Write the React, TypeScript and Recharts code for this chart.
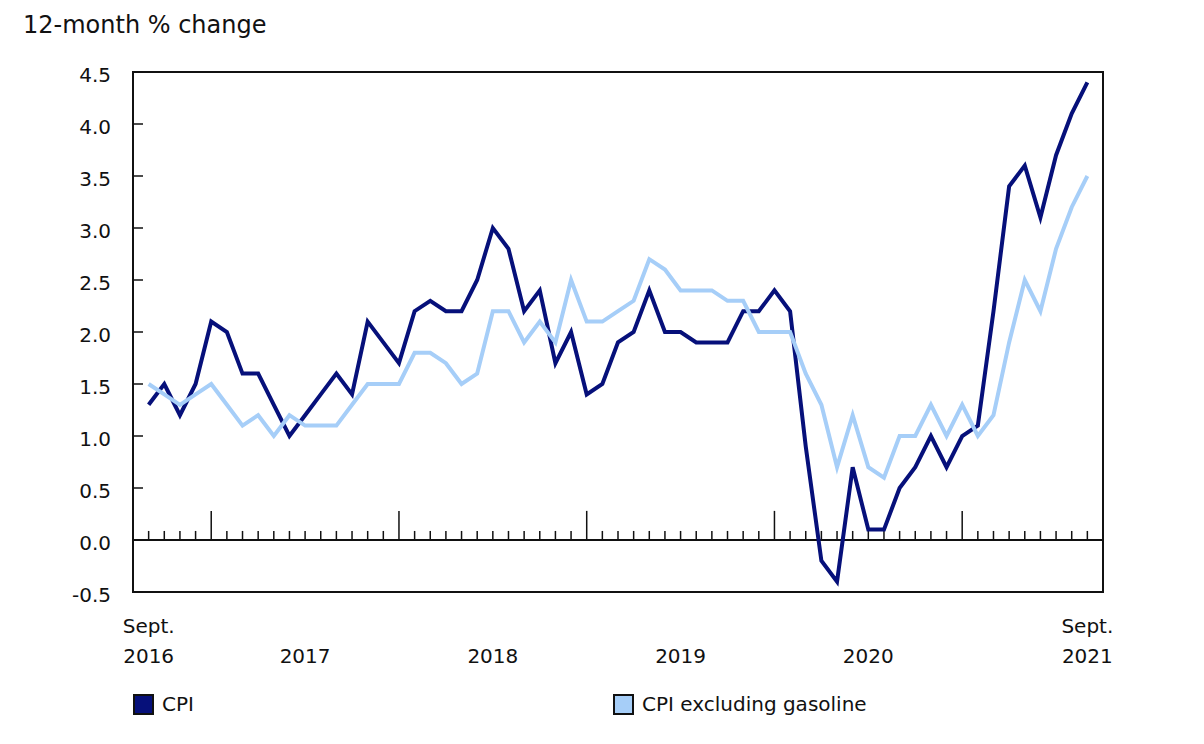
import {
  LineChart,
  Line,
  XAxis,
  YAxis,
  ReferenceLine,
  ReferenceArea,
} from "recharts";

// Sept. 2016 .. Sept. 2021, monthly
const cpi = [
  1.3, 1.5, 1.2, 1.5,
  2.1, 2.0, 1.6, 1.6, 1.3, 1.0, 1.2, 1.4, 1.6, 1.4, 2.1, 1.9,
  1.7, 2.2, 2.3, 2.2, 2.2, 2.5, 3.0, 2.8, 2.2, 2.4, 1.7, 2.0,
  1.4, 1.5, 1.9, 2.0, 2.4, 2.0, 2.0, 1.9, 1.9, 1.9, 2.2, 2.2,
  2.4, 2.2, 0.9, -0.2, -0.4, 0.7, 0.1, 0.1, 0.5, 0.7, 1.0, 0.7,
  1.0, 1.1, 2.2, 3.4, 3.6, 3.1, 3.7, 4.1, 4.4,
];

const cpiExGas = [
  1.5, 1.4, 1.3, 1.4,
  1.5, 1.3, 1.1, 1.2, 1.0, 1.2, 1.1, 1.1, 1.1, 1.3, 1.5, 1.5,
  1.5, 1.8, 1.8, 1.7, 1.5, 1.6, 2.2, 2.2, 1.9, 2.1, 1.9, 2.5,
  2.1, 2.1, 2.2, 2.3, 2.7, 2.6, 2.4, 2.4, 2.4, 2.3, 2.3, 2.0,
  2.0, 2.0, 1.6, 1.3, 0.7, 1.2, 0.7, 0.6, 1.0, 1.0, 1.3, 1.0,
  1.3, 1.0, 1.2, 1.9, 2.5, 2.2, 2.8, 3.2, 3.5,
];

const yTicks = [-0.5, 0, 0.5, 1, 1.5, 2, 2.5, 3, 3.5, 4, 4.5];
const xTicks = [0, 10, 22, 34, 46, 60];
const xTopLabels = ["Sept.", "", "", "", "", "Sept."];
const xYearLabels = ["2016", "2017", "2018", "2019", "2020", "2021"];

const DARK = "#06107a";
const LIGHT = "#a6cef8";
const FONT = "'DejaVu Sans', Verdana, sans-serif";

const data = cpi.map((v, i) => ({ i, cpi: v, exGas: cpiExGas[i] }));
const monthIdx = cpi.map((_, i) => i);

const XTick = ({ x, y, payload }: any) => {
  const k = xTicks.indexOf(payload.value);
  return (
    <g>
      {xTopLabels[k] && (
        <text x={x} y={y + 41} textAnchor="middle" fontSize={20} fill="#111">
          {xTopLabels[k]}
        </text>
      )}
      <text x={x} y={y + 71} textAnchor="middle" fontSize={20} fill="#111">
        {xYearLabels[k]}
      </text>
    </g>
  );
};

const YTick = ({ x, y, payload }: any) => (
  <text x={x} y={y + 3} dy="0.355em" textAnchor="end" fontSize={20} fill="#111">
    {payload.value.toFixed(1)}
  </text>
);

export default function App() {
  return (
    <div style={{ position: "absolute", left: 0, top: 0, width: 1204, height: 744, fontFamily: FONT, background: "#fff" }}>
      <div style={{ position: "absolute", left: 23, top: 11, fontSize: 24, color: "#111", lineHeight: "normal" }}>
        12-month % change
      </div>
      <LineChart
        width={1204}
        height={744}
        data={data}
        margin={{ top: 72, right: 101, bottom: 52, left: 0 }}
        style={{ fontFamily: FONT }}
      >
        <XAxis
          dataKey="i"
          type="number"
          domain={[-1, 61]}
          ticks={xTicks}
          axisLine={false}
          tickLine={false}
          tickSize={0}
          tickMargin={0}
          height={100}
          tick={<XTick />}
          interval={0}
        />
        <YAxis
          type="number"
          domain={[-0.5, 4.5]}
          ticks={yTicks}
          width={133}
          axisLine={false}
          tickLine={false}
          tickSize={0}
          tickMargin={22}
          tick={<YTick />}
          interval={0}
        />
        {yTicks.map((v) => (
          <ReferenceLine
            key={"yt" + v}
            segment={[{ x: -1, y: v }, { x: -0.36, y: v }]}
            stroke="#111"
            strokeWidth={1.5}
          />
        ))}
        {monthIdx.map((i) => (
          <ReferenceLine
            key={"mt" + i}
            segment={[{ x: i, y: 0 }, { x: i, y: (i + 8) % 12 === 0 ? 0.28 : 0.087 }]}
            stroke="#111"
            strokeWidth={1.5}
          />
        ))}
        <ReferenceLine y={0} stroke="#111" strokeWidth={2} />
        <Line
          type="linear"
          dataKey="cpi"
          name="CPI"
          stroke={DARK}
          strokeWidth={4}
          dot={false}
          isAnimationActive={false}
        />
        <Line
          type="linear"
          dataKey="exGas"
          name="CPI excluding gasoline"
          stroke={LIGHT}
          strokeWidth={4}
          dot={false}
          isAnimationActive={false}
        />
        <ReferenceArea
          x1={-1}
          x2={61}
          y1={-0.5}
          y2={4.5}
          fill="none"
          fillOpacity={0}
          stroke="#111"
          strokeWidth={2}
        />
      </LineChart>
      {[
        { label: "CPI", color: DARK, left: 133 },
        { label: "CPI excluding gasoline", color: LIGHT, left: 613 },
      ].map((it) => (
        <div
          key={it.label}
          style={{ position: "absolute", left: it.left, top: 692, display: "flex", alignItems: "center", fontSize: 20, color: "#111" }}
        >
          <span style={{ width: 17, height: 17, background: it.color, border: "2px solid #111", display: "inline-block" }} />
          <span style={{ marginLeft: 8 }}>{it.label}</span>
        </div>
      ))}
    </div>
  );
}
